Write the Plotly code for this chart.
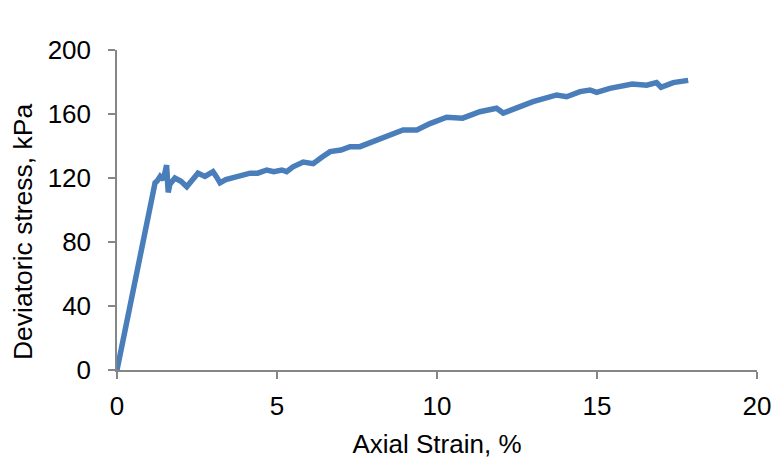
import plotly.graph_objects as go

# Triaxial test: deviatoric stress vs axial strain
axial_strain = [0, 0.3, 0.6, 0.9, 1.1, 1.19, 1.25, 1.35, 1.45, 1.55, 1.6, 1.65,
                1.81, 2.0, 2.18, 2.35, 2.53, 2.75, 3.0, 3.1, 3.22, 3.4, 3.63,
                3.9, 4.16, 4.4, 4.68, 4.9, 5.15, 5.3, 5.5, 5.82, 6.13, 6.4,
                6.66, 7.0, 7.28, 7.59, 7.9, 8.32, 8.6, 8.94, 9.37, 9.78, 10.3,
                10.8, 11.34, 11.86, 12.07, 12.49, 13.0, 13.74, 14.05, 14.47,
                14.78, 14.99, 15.4, 16.1, 16.55, 16.86, 17.0, 17.38, 17.85]
deviatoric_stress = [0, 29, 59, 88, 108, 117, 118, 121, 119, 128, 111, 116,
                     120, 118, 114.6, 119, 123, 121, 124, 121, 117, 119, 120,
                     121, 123, 123, 125, 124, 125, 124, 127, 130, 129, 133,
                     136.5, 137.5, 139.6, 139.6, 142, 145.8, 148, 150, 150, 154,
                     158, 157.4, 161.4, 163.6, 160.6, 163.5, 167.7, 171.9, 170.8,
                     174, 175, 173.5, 176, 178.7, 178, 179.6, 176.7, 179.6, 181]

x_ticks = [0, 5, 10, 15, 20]
y_ticks = [0, 40, 80, 120, 160, 200]

FONT = "Liberation Sans, Arial, sans-serif"
AXIS_GREY = "#868686"
FS = 26

fig = go.Figure(
    go.Scatter(
        x=axial_strain,
        y=deviatoric_stress,
        mode="lines",
        line=dict(color="#4a7ebb", width=5.5),
        showlegend=False,
    )
)

fig.update_layout(
    width=778,
    height=465,
    margin=dict(l=117, r=21, t=50, b=95),
    paper_bgcolor="white",
    plot_bgcolor="white",
    font=dict(family=FONT, size=FS, color="black"),
)

fig.update_xaxes(
    range=[0, 20],
    tickvals=x_ticks,
    ticks="outside",
    ticklen=7,
    tickwidth=1.5,
    tickcolor=AXIS_GREY,
    showline=True,
    linecolor=AXIS_GREY,
    linewidth=1.5,
    showgrid=False,
    zeroline=False,
    automargin=False,
    ticklabelstandoff=5,
    title=dict(text="Axial Strain, %", font=dict(size=FS), standoff=15),
)

fig.update_yaxes(
    range=[0, 200],
    tickvals=y_ticks,
    ticks="outside",
    ticklen=7,
    tickwidth=1.5,
    tickcolor=AXIS_GREY,
    showline=True,
    linecolor=AXIS_GREY,
    linewidth=1.5,
    showgrid=False,
    zeroline=False,
    automargin=False,
    ticklabelstandoff=12,
)

# Vertical axis title, set a little below the axis centre
fig.add_annotation(
    text="Deviatoric stress, kPa",
    xref="paper",
    yref="paper",
    x=-0.147,
    y=0.434,
    textangle=-90,
    showarrow=False,
    xanchor="center",
    yanchor="middle",
    font=dict(family=FONT, size=26.5, color="black"),
)

fig.write_html("out.html")
